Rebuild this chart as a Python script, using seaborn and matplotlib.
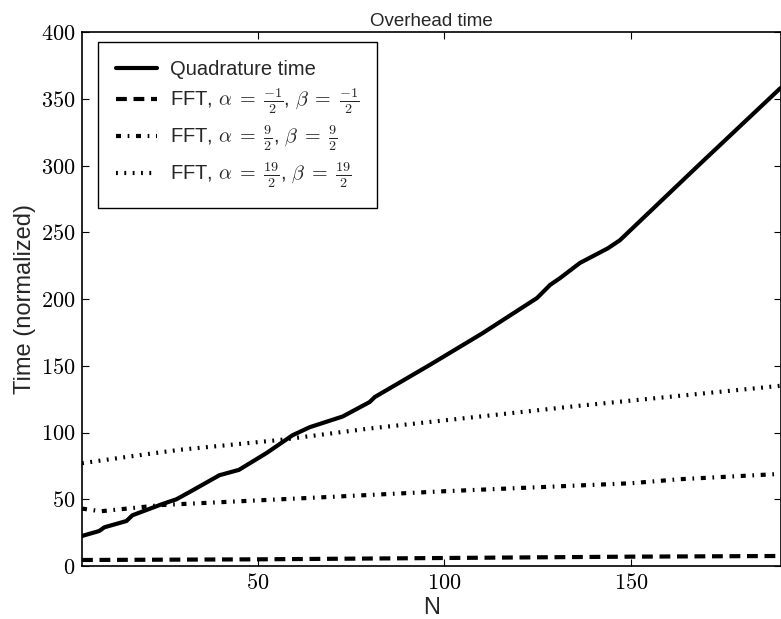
import numpy as np
import pandas as pd
import matplotlib
matplotlib.use("Agg")
import matplotlib.pyplot as plt
from matplotlib.ticker import FuncFormatter
import seaborn as sns

# Values
quad_n = [3, 7.6, 9, 14.9, 16.5, 24.5, 28.3, 31.8, 39.8, 45, 52.4, 59.4, 64, 72.8,
          80, 81.4, 96.1, 110.3, 124.8, 128.3, 131, 136.3, 143.8, 147, 168, 190]
quad_t = [22.5, 26.2, 29, 33.7, 38, 46.4, 50, 55.4, 68, 72, 84.6, 98, 104, 112,
          122.8, 126.6, 150.6, 174.5, 200.7, 210.5, 215.7, 227, 238, 244, 300, 358]

fft1_n = [3, 50, 100, 150, 190]
fft1_t = [4.5, 5, 6, 7, 7.5]

fft9_n = [3, 8, 24.5, 69, 100, 150, 163, 190]
fft9_t = [43, 41, 45.7, 51.7, 56, 62, 65, 69]

fft19_n = [3, 15.7, 29, 56, 80, 136, 190]
fft19_t = [77, 82, 87, 94.4, 103, 120, 135]

labels = ["Quadrature time",
          r"FFT, $\alpha\;=\;\frac{\mathbf{-1}}{\mathbf{2}}$, $\beta\;=\;\frac{\mathbf{-1}}{\mathbf{2}}$",
          r"FFT, $\alpha\;=\;\frac{\mathbf{9}}{\mathbf{2}}$, $\beta\;=\;\frac{\mathbf{9}}{\mathbf{2}}$",
          r"FFT, $\alpha\;=\;\frac{\mathbf{19}}{\mathbf{2}}$, $\beta\;=\;\frac{\mathbf{19}}{\mathbf{2}}$"]

series = [(quad_n, quad_t), (fft1_n, fft1_t), (fft9_n, fft9_t), (fft19_n, fft19_t)]
df = pd.concat([pd.DataFrame({"N": n, "time": t, "series": lab})
                for lab, (n, t) in zip(labels, series)], ignore_index=True)

sns.set_style("ticks")
plt.rcParams["font.family"] = ["Liberation Sans", "DejaVu Sans"]
plt.rcParams["mathtext.fontset"] = "cm"

fig = plt.figure(figsize=(7.81, 6.19), dpi=100)
ax = fig.add_axes([82 / 781, 53 / 619, 698.5 / 781, 534 / 619])

dash_map = {labels[0]: "",
            labels[1]: (2.6, 1.6),
            labels[2]: (1.2, 1.6, 0.4, 1.6),
            labels[3]: (0.45, 1.55)}

sns.lineplot(data=df, x="N", y="time", style="series", style_order=labels,
             dashes=dash_map, color="black", linewidth=3, estimator=None,
             sort=True, legend=False, ax=ax)

ax.set_xlim(3, 190)
ax.set_ylim(0, 400)
ax.set_xticks([50, 100, 150])
ax.set_yticks(range(0, 401, 50))
fmt = FuncFormatter(lambda v, p: f"${v:g}$")
ax.xaxis.set_major_formatter(fmt)
ax.yaxis.set_major_formatter(fmt)
ax.tick_params(direction="in", top=True, right=True, labelsize=16, length=5,
               width=0.8, colors="black", pad=5)
for s in ax.spines.values():
    s.set_linewidth(1.2)
    s.set_color("black")

ax.set_title("Overhead time", fontsize=13.5, pad=4)
ax.set_xlabel("N", fontsize=17, labelpad=2)
ax.set_ylabel("Time (normalized)", fontsize=17, labelpad=3)

leg = ax.legend(ax.get_lines()[:4], labels, loc="upper left", fontsize=14.5,
                fancybox=False, framealpha=1, edgecolor="black",
                handlelength=2.0, handletextpad=0.65, labelspacing=0.35,
                borderpad=0.9, borderaxespad=0.5,
                bbox_to_anchor=(0.009, 1.0))
leg.get_frame().set_linewidth(1.0)

fig.savefig("out.png", dpi=100)
